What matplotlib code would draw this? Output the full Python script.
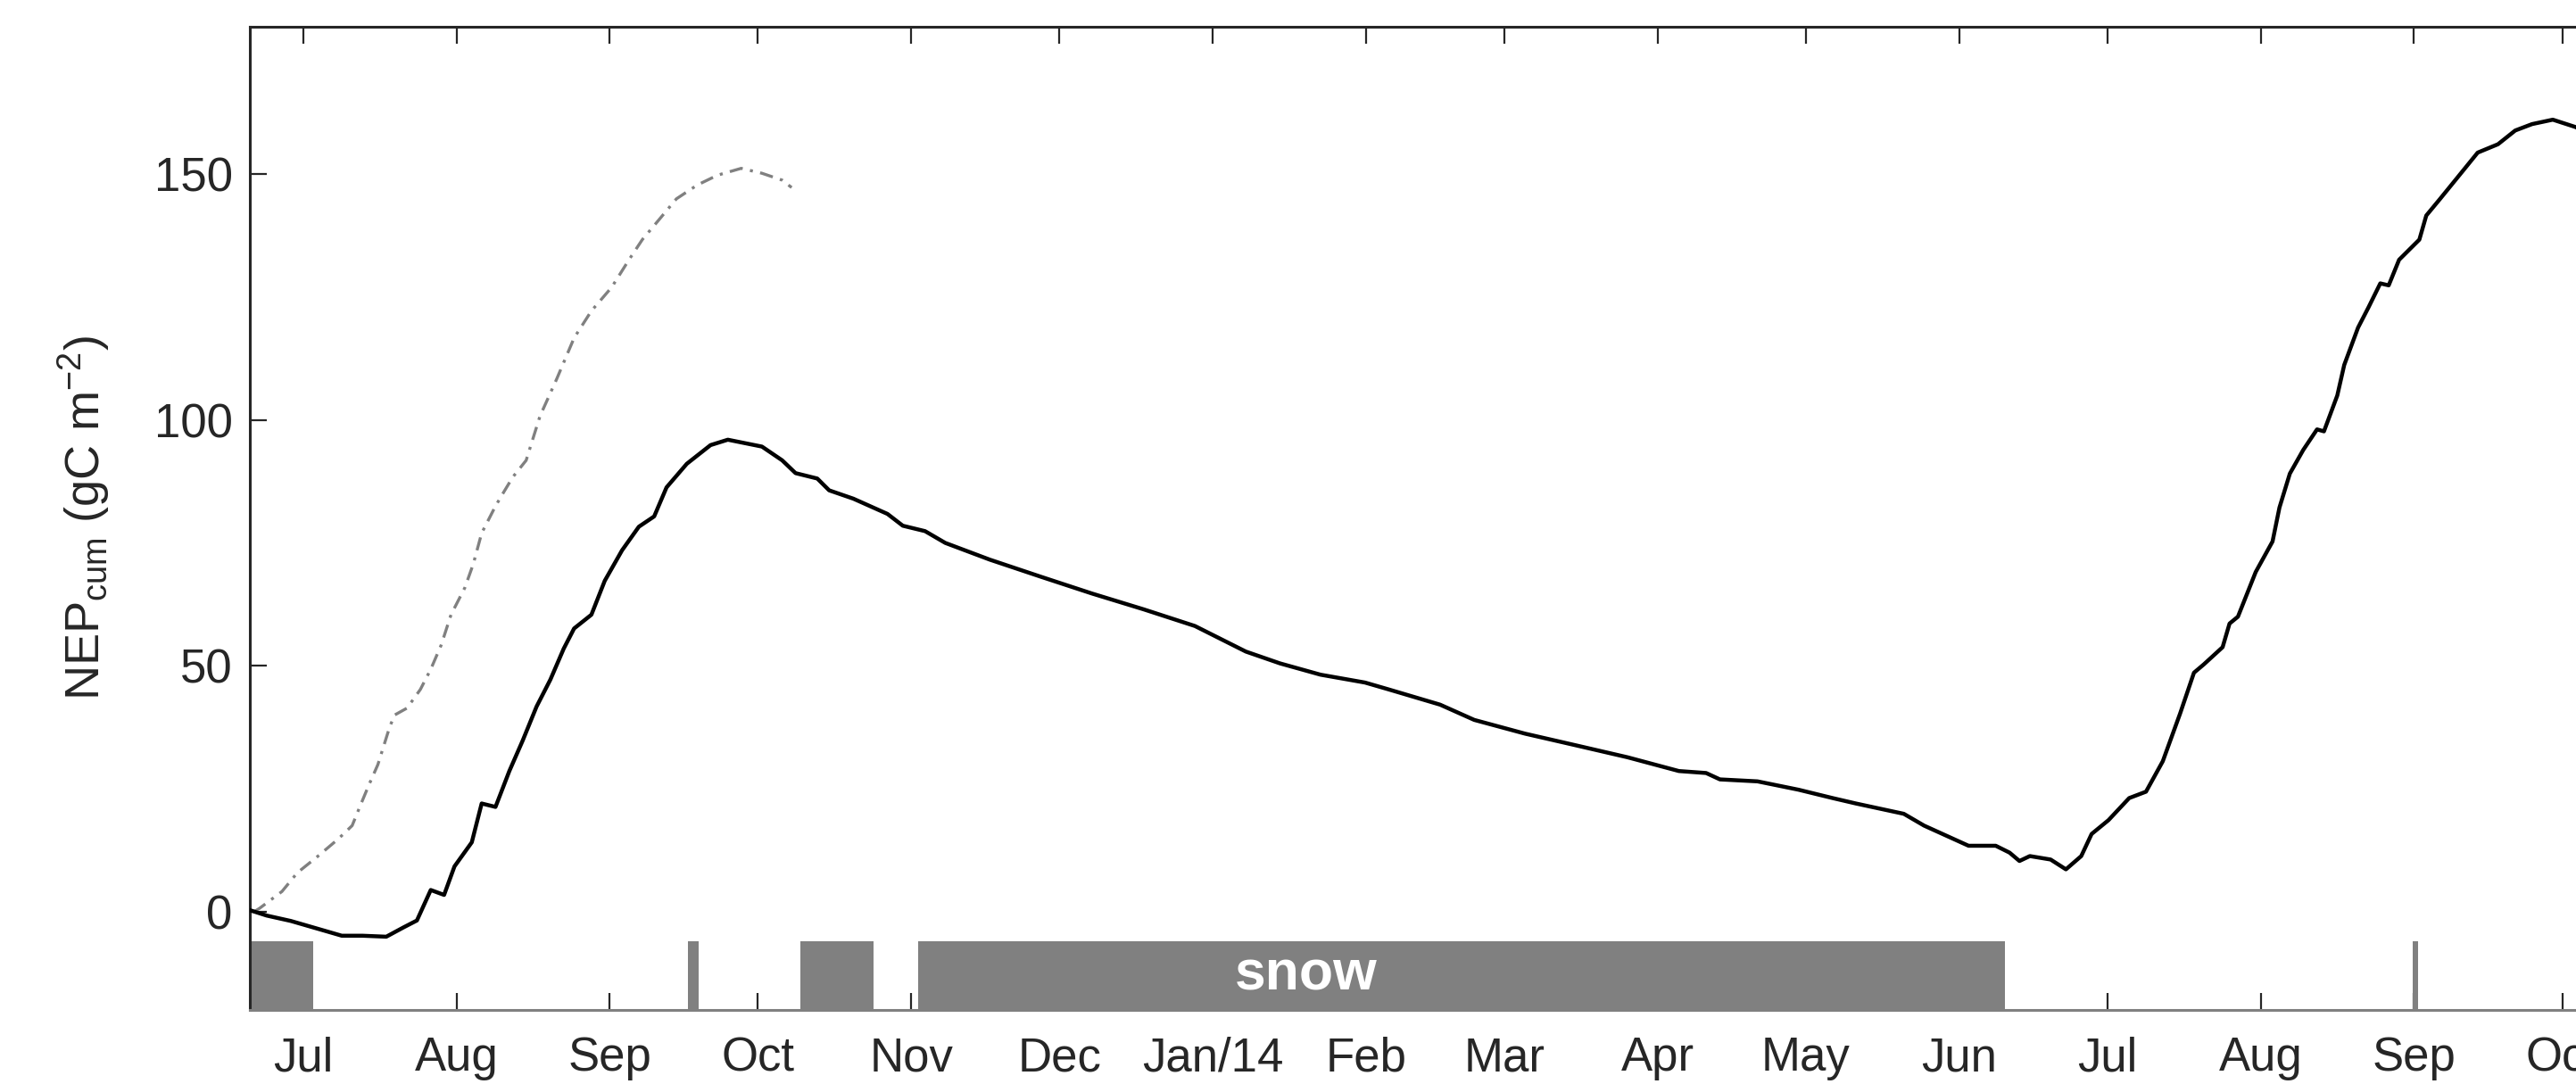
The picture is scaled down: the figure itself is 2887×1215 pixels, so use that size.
import datetime as dt

import matplotlib
matplotlib.use("Agg")
import matplotlib.pyplot as plt
import matplotlib.dates as mdates

# days counted from 1 Jul 2013
base_date = dt.datetime(2013, 7, 1)

# cumulative NEP, black solid line
days_black = [-10.8, -7.4, -2.5, 3.0, 7.8, 12.0, 16.8, 20.3, 23.0, 25.8, 28.5, 30.6,
              34.1, 36.1, 38.9, 41.7, 44.4, 47.2, 50.0, 52.7, 54.8, 58.3, 61.0, 64.5,
              67.9, 71.0, 73.5, 77.6, 82.4, 85.9, 92.8, 96.9, 99.6, 104.0, 106.4, 111.3,
              118.2, 121.3, 125.8, 129.9, 138.9, 149.3, 159.6, 170.0, 180.4, 190.7, 197.6,
              205.8, 214.8, 219.6, 230.0, 236.9, 247.2, 257.6, 267.9, 278.3, 283.8, 286.6,
              294.2, 302.5, 309.4, 314.1, 323.8, 327.9, 336.9, 342.4, 345.2, 347.2, 349.3,
              353.5, 356.6, 359.7, 361.8, 365.2, 369.4, 372.8, 376.2, 379.7, 382.5, 384.5,
              388.3, 389.7, 391.4, 395.0, 398.4, 399.8, 401.9, 404.6, 407.4, 408.8, 411.5,
              412.9, 415.7, 417.8, 420.2, 421.9, 424.0, 428.1, 429.5, 432.3, 435.7, 439.9,
              444.0, 447.5, 450.9, 455.1, 459.7, 463.0]
nep_black = [0.3, -0.8, -1.9, -3.5, -4.9, -4.9, -5.1, -3.2, -1.8, 4.4, 3.4, 9.2,
             14.1, 22.0, 21.3, 28.6, 34.8, 41.7, 47.2, 53.5, 57.6, 60.4, 67.3, 73.5,
             78.3, 80.4, 86.3, 91.1, 94.9, 96.0, 94.6, 91.8, 89.2, 88.1, 85.7, 84.0,
             80.9, 78.5, 77.4, 75.0, 71.6, 68.1, 64.7, 61.5, 58.1, 52.9, 50.5,
             48.2, 46.6, 45.2, 42.1, 39.0, 36.2, 33.8, 31.4, 28.6, 28.2, 26.9,
             26.5, 24.8, 23.1, 22.0, 19.9, 17.5, 13.4, 13.4, 12.0, 10.3, 11.3,
             10.6, 8.6, 11.3, 15.8, 18.6, 23.1, 24.4, 30.6, 40.3, 48.6, 50.3,
             53.8, 58.6, 60.0, 69.1, 75.3, 82.2, 89.1, 93.9, 98.1, 97.7, 105.0,
             111.2, 118.8, 122.9, 127.8, 127.4, 132.6, 136.7, 141.6, 145.0, 149.2, 154.4,
             156.1, 158.9, 160.2, 161.1, 159.6, 158.0]

# second series, grey dash-dot line (first season only)
days_grey = [-9.9, -8.8, -4.3, -1.2, 3.0, 7.1, 9.9, 11.6, 13.3, 15.1, 17.5, 18.5, 21.0,
             23.7, 25.8, 27.9, 29.9, 32.7, 34.4, 36.1, 38.9, 40.3, 42.4, 45.1, 47.9,
             51.3, 54.8, 58.3, 62.4, 65.9, 68.6, 72.1, 75.5, 79.7, 83.8, 88.6, 92.8,
             96.9, 98.8]
nep_grey = [0.0, 0.7, 4.1, 7.9, 11.3, 14.8, 17.5, 21.7, 25.8, 29.9, 37.6, 40.0, 41.4,
            45.2, 49.3, 54.2, 60.4, 65.9, 70.7, 77.0, 82.5, 84.9, 88.4, 91.8, 100.8,
            108.4, 116.7, 122.2, 127.0, 132.6, 136.7, 140.9, 145.0, 147.8, 149.8, 151.2, 150.2,
            148.8, 147.3]

# snow cover periods (start day, end day)
snow_start = [-10.8, 77.8, 100.5, 124.4, 426.7]
snow_end = [1.95, 80.0, 115.3, 344.2, 427.8]

month_ticks = ["2013-07-01", "2013-08-01", "2013-09-01", "2013-10-01", "2013-11-01",
               "2013-12-01", "2014-01-01", "2014-02-01", "2014-03-01", "2014-04-01",
               "2014-05-01", "2014-06-01", "2014-07-01", "2014-08-01", "2014-09-01",
               "2014-10-01"]
month_labels = ["Jul", "Aug", "Sep", "Oct", "Nov", "Dec", "Jan/14", "Feb", "Mar", "Apr",
                "May", "Jun", "Jul", "Aug", "Sep", "Oct"]


def to_num(days):
    return [mdates.date2num(base_date) + d for d in days]


plt.rcParams['font.family'] = ['Liberation Sans', 'DejaVu Sans']
plt.rcParams['mathtext.fontset'] = 'custom'
plt.rcParams['mathtext.rm'] = 'Liberation Sans'

W, H = 2887, 1215
fig = plt.figure(figsize=(W / 100, H / 100), dpi=100)
ax = fig.add_axes([280 / W, 1 - 1132 / H, (2907 - 280) / W, (1132 - 30) / H])

grey = '#808080'

# snow bars along the bottom
bars = [(s, e - s) for s, e in zip(to_num(snow_start), to_num(snow_end))]
ax.broken_barh(bars, (-20, 14), facecolors=grey, edgecolors='none', zorder=2)
ax.text(to_num([202.9])[0], -13, 'snow', color='white', fontsize=45, fontweight='bold',
        ha='center', va='center', zorder=4)

ax.plot(to_num(days_grey), nep_grey, color=grey, lw=2.4,
        linestyle=(0, (4.5, 2.5, 1, 2.5)), zorder=3)
ax.plot(to_num(days_black), nep_black, color='black', lw=3.2, zorder=3)

ax.set_xlim(to_num([-10.8])[0], to_num([463.4])[0])
ax.set_ylim(-20, 180)
ax.set_yticks([0, 50, 100, 150])
ax.set_xticks([mdates.date2num(dt.datetime.fromisoformat(d)) for d in month_ticks])
ax.set_xticklabels(month_labels)

ax.tick_params(axis='both', which='both', direction='in', length=14, width=1.6,
               color='#262626', labelsize=38, labelcolor='#262626',
               top=True, right=True)
ax.tick_params(axis='x', pad=21)
ax.tick_params(axis='y', pad=14)

for side in ['left', 'top', 'right']:
    ax.spines[side].set_color('#262626')
    ax.spines[side].set_linewidth(2.2)
ax.spines['bottom'].set_color(grey)
ax.spines['bottom'].set_linewidth(2.2)

ax.set_ylabel(r'NEP$_{\mathrm{cum}}$ (gC m$^{-2}$)', fontsize=39, color='#262626')
ax.yaxis.label.set_va('center')
ax.yaxis.set_label_coords(-0.071, 0.5)

fig.savefig('out.png', dpi=100)
